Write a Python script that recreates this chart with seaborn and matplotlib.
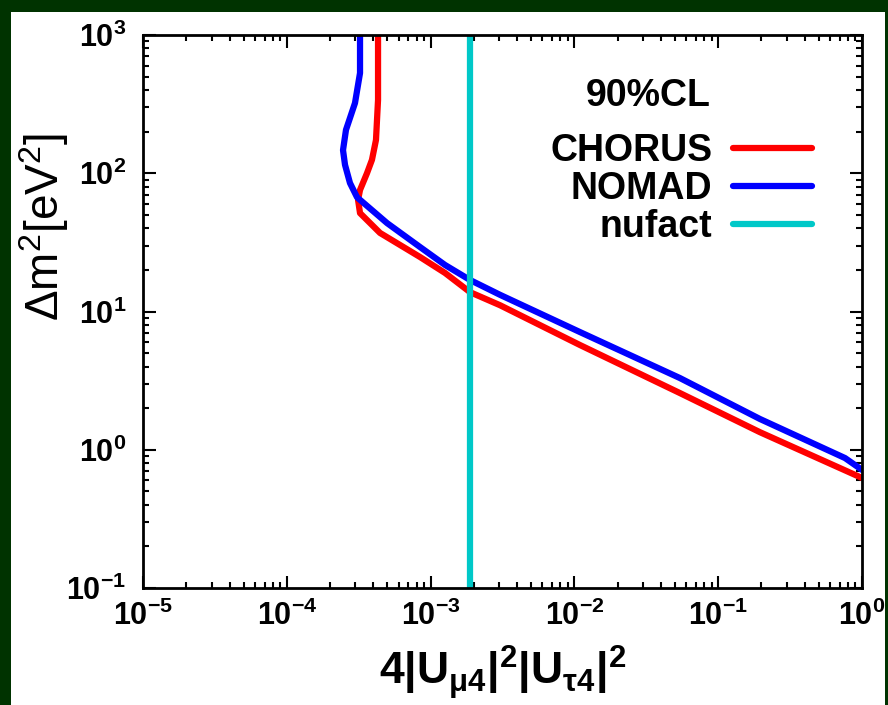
import matplotlib
matplotlib.use("Agg")
import matplotlib.pyplot as plt
import seaborn as sns
import numpy as np
import pandas as pd
from matplotlib.patches import Rectangle
from matplotlib.ticker import LogLocator, NullFormatter

# ---- data ----
chorus_x = [4.31e-4, 4.31e-4, 4.17e-4, 3.91e-4, 3.61e-4, 3.23e-4, 3.13e-4, 3.23e-4,
            4.45e-4, 8.43e-4, 1.26e-3, 1.88e-3, 3.04e-3, 1.09e-2, 5.42e-2, 0.195, 1.0]
chorus_y = [1000, 339, 174, 125, 100, 75.7, 64.1, 51.5,
            37.0, 24.8, 19.0, 13.8, 11.1, 5.73, 2.57, 1.34, 0.625]
nomad_x = [3.23e-4, 3.23e-4, 2.98e-4, 2.58e-4, 2.46e-4, 2.54e-4, 2.75e-4, 3.08e-4,
           4.98e-4, 8.43e-4, 1.26e-3, 1.88e-3, 3.04e-3, 1.09e-2, 5.42e-2, 0.195, 0.762, 1.0]
nomad_y = [1000, 531, 322, 206, 147, 115, 85, 67,
           43.6, 29.3, 21.7, 16.9, 13.2, 7.11, 3.30, 1.67, 0.871, 0.715]
nufact_x = 1.88e-3
series_labels = ["CHORUS", "NOMAD", "nufact"]
series_colors = ["#FF0000", "#0000FF", "#00C8C8"]

sns.set_theme(style="white")
plt.rcParams["font.family"] = ["Liberation Sans", "DejaVu Sans"]
plt.rcParams["font.weight"] = "bold"
plt.rcParams["axes.linewidth"] = 2.0
plt.rcParams["text.color"] = "black"
plt.rcParams["axes.labelcolor"] = "black"
plt.rcParams["xtick.color"] = "black"
plt.rcParams["ytick.color"] = "black"
plt.rcParams["lines.solid_joinstyle"] = "round"

fig = plt.figure(figsize=(8.88, 7.05), dpi=100, facecolor="#003300")
fig.patches.append(Rectangle((11 / 888, 0), (885 - 11) / 888, (705 - 12) / 705,
                             transform=fig.transFigure, facecolor="white",
                             edgecolor="none", zorder=-10))
ax = fig.add_axes([143 / 888, 1 - 588 / 705, (862 - 143) / 888, (588 - 35) / 705])
ax.set_facecolor("white")

lw = 4.5
sns.lineplot(x=chorus_x, y=chorus_y, sort=False, estimator=None, ax=ax,
             color=series_colors[0], lw=lw, label=series_labels[0])
sns.lineplot(x=nomad_x, y=nomad_y, sort=False, estimator=None, ax=ax,
             color=series_colors[1], lw=lw, label=series_labels[1])
ax.axvline(nufact_x, color=series_colors[2], lw=lw, label=series_labels[2])

ax.set_xscale("log")
ax.set_yscale("log")
ax.set_xlim(1e-5, 1)
ax.set_ylim(0.1, 1000)
for axis in (ax.xaxis, ax.yaxis):
    axis.set_major_locator(LogLocator(base=10, numticks=20))
    axis.set_minor_locator(LogLocator(base=10, subs=np.arange(2, 10), numticks=20))
    axis.set_minor_formatter(NullFormatter())

for s in ax.spines.values():
    s.set_color("black")
    s.set_linewidth(2.0)

ax.tick_params(which="both", direction="in", top=True, right=True,
               bottom=True, left=True, color="black", labelcolor="black", width=1.5)
ax.tick_params(which="major", length=9, labelsize=22, pad=9)
ax.tick_params(which="minor", length=4.5)
ax.tick_params(axis="y", which="major", pad=12)

ax.set_xlabel(r"$\mathdefault{4|U_{\mu4}|^2|U_{\tau4}|^2}$", fontsize=32,
              fontweight="bold", va="top", color="black")
ax.xaxis.set_label_coords(0.5, -0.1)
ax.set_ylabel(r"$\mathdefault{\Delta m^2[eV^2]}$", fontsize=33,
              fontweight="normal", color="black")
ax.yaxis.set_label_coords(-0.10, 0.653)

ax.text(0.702, 0.89, "90%CL", transform=ax.transAxes, ha="center", va="center",
        fontsize=27, fontweight="bold", color="black")

handles, labels = ax.get_legend_handles_labels()
leg = ax.legend(handles, labels, loc="upper right", bbox_to_anchor=(0.93, 0.822),
                borderaxespad=0, borderpad=0, frameon=False, markerfirst=False,
                handlelength=2.1, handletextpad=0.55, labelspacing=0.05,
                prop={"size": 27, "weight": "bold"})
for t in leg.get_texts():
    t.set_color("black")

fig.savefig("out.png", dpi=100, facecolor=fig.get_facecolor())
